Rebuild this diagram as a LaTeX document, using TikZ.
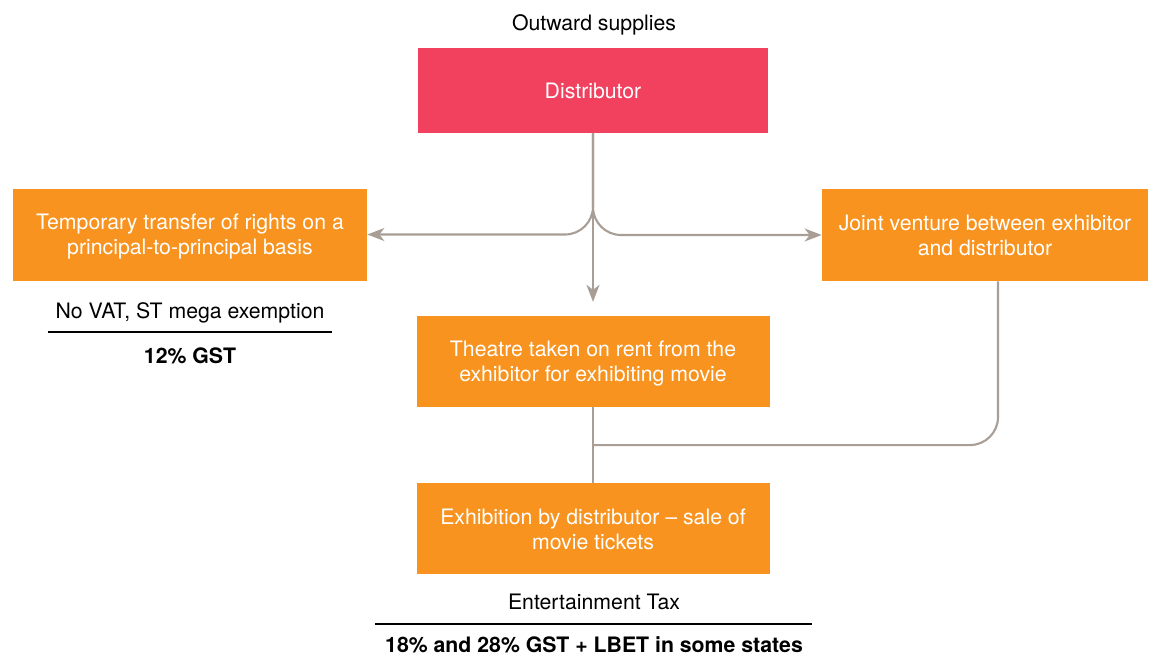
\documentclass[tikz,border=0pt]{standalone}
\usepackage{fontspec}
\setmainfont{TeX Gyre Heros}
\usetikzlibrary{arrows.meta, positioning, calc}

\definecolor{distred}{HTML}{F2405F}
\definecolor{boxorange}{HTML}{F7931E}
\definecolor{linkgray}{HTML}{A89E96}

\begin{document}
\begin{tikzpicture}[auto,node distance=1.5cm,
        font=\fontsize{12.1}{14.2}\selectfont,
        box node/.style={rectangle,fill=boxorange,text=white,align=center,
            minimum width=7.06cm,minimum height=1.82cm,inner sep=0pt,text depth=0pt},
        link/.style={draw=linkgray,line width=1.2pt,rounded corners=0.56cm},
        tip/.style={-{Stealth[length=0.34cm,width=0.26cm,inset=0.1cm]}},
        label text/.style={anchor=base},
        rule/.style={draw=black,line width=0.9pt}]
        \useasboundingbox (0,0) rectangle (23.16,-13.14);

        \node[box node,fill=distred,minimum width=7.0cm,minimum height=1.7cm] (D) at (11.86,-1.81) {Distributor};
        \node[box node] (T) [below=3.64cm of D] {Theatre taken on rent from the\\exhibitor for exhibiting movie};
        \node[box node] (E) [below=1.52cm of T] {Exhibition by distributor -- sale of\\movie tickets};
        \node[box node,minimum width=7.08cm,minimum height=1.84cm] (L) at (3.80,-4.69) {Temporary transfer of rights on a\\principal-to-principal basis};
        \node[box node,minimum width=6.52cm,minimum height=1.84cm] (J) at (19.70,-4.70) {Joint venture between exhibitor\\and distributor};

        % texts around the boxes
        \node[label text] (out) at (11.88,-0.62) {Outward supplies};
        \node[label text] (novat) at (3.80,-6.36) {No VAT, ST mega exemption};
        \node[label text] (gst12) at (3.80,-7.26) {\bfseries 12\% GST};
        \node[label text] (ent) at (11.88,-12.18) {Entertainment Tax};
        \node[label text] (gst18) at (11.88,-13.05) {\bfseries 18\% and 28\% GST + LBET in some states};

        \coordinate (ruleL1) at (0.95,-6.64);
        \coordinate (ruleL2) at (6.64,-6.64);
        \coordinate (ruleB1) at (7.50,-12.48);
        \coordinate (ruleB2) at (16.24,-12.48);
        \draw[rule] (ruleL1) -- (ruleL2);
        \draw[rule] (ruleB1) -- (ruleB2);

        % connectors
        \draw[link,tip,shorten >=0.27cm] (D) -- (T);
        \draw[link,tip] (D.south) |- (L);
        \draw[link,tip] (D.south) |- (J);
        \coordinate (M) at ($(T.south)!0.5!(E.north)$);
        \draw[link] (T) -- (E);
        \draw[link] ([xshift=0.26cm]J.south) |- (M);
\end{tikzpicture}
\end{document}
